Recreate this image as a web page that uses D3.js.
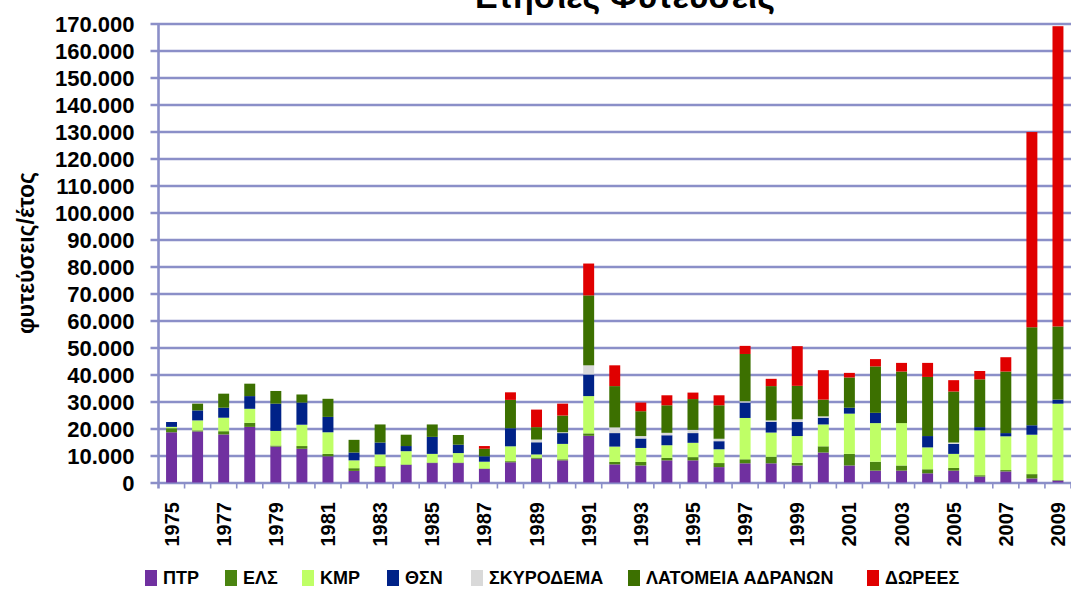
<!DOCTYPE html>
<html>
<head>
<meta charset="utf-8">
<script src="https://cdn.jsdelivr.net/npm/d3@7"></script>
<style>
  body { margin: 0; background: #fff; }
  svg { display: block; font-family: "Liberation Sans", Arial, sans-serif; }
  .tick-label { font-weight: bold; fill: #000; }
</style>
</head>
<body>
<div id="chart"></div>
<script>
// years and series (planted per year)
const years = d3.range(1975, 2010);
const seriesNames = ['ΠΤΡ', 'ΕΛΣ', 'ΚΜΡ', 'ΘΣΝ', 'ΣΚΥΡΟΔΕΜΑ', 'ΛΑΤΟΜΕΙΑ ΑΔΡΑΝΩΝ', 'ΔΩΡΕΕΣ'];
const seriesColors = ['#7030a0', '#4a8410', '#bfff66', '#002288', '#d9d9d9', '#3c7000', '#e00000'];

const ptr = [18600, 18900, 17800, 20600, 13300, 12500, 9700, 4300, 5800, 6500, 7200, 7200, 5000, 7500, 8800, 8200,
  17300, 6700, 6300, 8200, 8200, 5700, 7100, 7100, 6300, 11100, 6300, 4400, 4400, 3400, 4400, 2200, 4100, 1500, 700];
const els = [1500, 400, 1200, 1500, 400, 1000, 900, 1000, 300, 200, 200, 200, 200, 400, 400, 400,
  900, 900, 1300, 900, 1200, 1500, 1500, 2400, 1000, 2300, 4300, 3300, 1900, 1500, 1000, 500, 500, 1600, 200];
const kmr = [500, 3700, 5000, 5200, 5400, 7900, 8000, 2900, 4300, 4900, 3200, 3500, 2500, 5500, 1200, 5700,
  13800, 5700, 5200, 4700, 5300, 5100, 15300, 9000, 9900, 8100, 14900, 14300, 15700, 8100, 5200, 16600, 12500, 14600, 28300];
const thsn = [1800, 3700, 3700, 4700, 10100, 8200, 5700, 2900, 4400, 1900, 6300, 3100, 2000, 6700, 4500, 4000,
  8000, 5000, 3500, 3700, 3600, 3000, 5700, 4000, 5200, 2500, 2200, 3800, 0, 4200, 3700, 1200, 1200, 3500, 1500];
const skyrodema = [0, 0, 0, 0, 0, 0, 0, 0, 0, 0, 0, 0, 0, 0, 1000, 300,
  3400, 2100, 900, 900, 1200, 900, 500, 500, 1000, 500, 0, 0, 0, 0, 500, 0, 0, 0, 0];
const latomeia = [0, 2500, 5200, 4600, 4700, 3000, 6700, 4700, 6700, 4200, 4600, 3600, 2800, 10500, 4600, 6200,
  25900, 15300, 9200, 10200, 11400, 12400, 17500, 12700, 12400, 6200, 11200, 17200, 19100, 21900, 18900, 17700, 22800, 36300, 27100];
const dorees = [0, 0, 0, 0, 0, 0, 0, 0, 0, 0, 0, 0, 1000, 2800, 6500, 4400,
  11800, 7700, 3200, 3700, 2400, 3700, 3000, 2700, 14700, 10900, 1700, 2700, 3200, 5200, 4200, 3100, 5300, 72300, 111200];

const yTicks = d3.range(0, 170001, 10000);

const W = 1071, H = 596;
const margin = { top: 23.5, right: 0, bottom: 596 - 482.5, left: 158.5 };
const gridColor = '#8b8fc8';

const table = years.map((y, i) => ({
  year: y,
  'ΠΤΡ': ptr[i], 'ΕΛΣ': els[i], 'ΚΜΡ': kmr[i], 'ΘΣΝ': thsn[i],
  'ΣΚΥΡΟΔΕΜΑ': skyrodema[i], 'ΛΑΤΟΜΕΙΑ ΑΔΡΑΝΩΝ': latomeia[i], 'ΔΩΡΕΕΣ': dorees[i],
}));

const svg = d3.select('#chart').append('svg')
  .attr('width', W)
  .attr('height', H);

const xScale = d3.scaleBand()
  .domain(years)
  .range([margin.left, W - margin.right])
  .paddingInner(0.58)
  .paddingOuter(0.29);
const yScale = d3.scaleLinear()
  .domain([0, 170000])
  .range([H - margin.bottom, margin.top]);

const color = d3.scaleOrdinal().domain(seriesNames).range(seriesColors);

const fmt = d3.formatLocale({ decimal: ',', thousands: '.', grouping: [3], currency: ['', ''] }).format(',d');

/* gridlines + y axis */
const yAxis = d3.axisLeft(yScale)
  .tickValues(yTicks)
  .tickSize(-(W - margin.left + 8))
  .tickFormat(fmt);
const yAxisGroup = svg.append('g')
  .attr('transform', `translate(${margin.left - 8},0)`)
  .call(yAxis);
yAxisGroup.select('.domain').remove();
yAxisGroup.selectAll('.tick line')
  .attr('stroke', gridColor)
  .attr('stroke-width', 2.6);
yAxisGroup.selectAll('.tick text')
  .attr('class', 'tick-label')
  .attr('x', -16)
  .attr('dy', '0.36em')
  .style('font-size', '22px')
  .style('font-family', '"Liberation Sans", Arial, sans-serif');

/* vertical axis line */
svg.append('line')
  .attr('x1', margin.left).attr('x2', margin.left)
  .attr('y1', yScale(170000)).attr('y2', yScale(0) + 6)
  .attr('stroke', gridColor)
  .attr('stroke-width', 2.6);

/* category tick marks at bottom */
const step = xScale.step();
const bounds = d3.range(1, years.length + 1).map((i) => margin.left + i * step);
svg.append('g').selectAll('line')
  .data(bounds)
  .join('line')
  .attr('x1', (d) => d).attr('x2', (d) => d)
  .attr('y1', yScale(0)).attr('y2', yScale(0) + 6)
  .attr('stroke', gridColor)
  .attr('stroke-width', 1.6);

/* stacked bars */
const stacked = d3.stack().keys(seriesNames)(table);
svg.append('g').selectAll('g')
  .data(stacked)
  .join('g')
  .attr('fill', (d) => color(d.key))
  .selectAll('rect')
  .data((d) => d)
  .join('rect')
  .attr('x', (d) => xScale(d.data.year))
  .attr('width', xScale.bandwidth())
  .attr('y', (d) => yScale(d[1]))
  .attr('height', (d) => yScale(d[0]) - yScale(d[1]));

/* x labels (odd years) */
svg.append('g').selectAll('text')
  .data(years.filter((y) => y % 2 === 1))
  .join('text')
  .attr('class', 'tick-label')
  .attr('transform', (d) => `translate(${xScale(d) + xScale.bandwidth() / 2 + 7},502)rotate(-90)`)
  .attr('text-anchor', 'end')
  .style('font-size', '20px')
  .text((d) => d);

/* title, partly cut by the top edge as in the source image */
svg.append('text')
  .attr('x', 625)
  .attr('y', 8)
  .attr('text-anchor', 'middle')
  .style('font-size', '34px')
  .style('font-weight', 'bold')
  .text('Ετήσιες Φυτεύσεις');

/* y axis title */
svg.append('text')
  .attr('transform', 'translate(34,253)rotate(-90)')
  .attr('text-anchor', 'middle')
  .style('font-size', '23px')
  .style('font-weight', 'bold')
  .text('φυτεύσεις/έτος');

/* legend */
const legendX = [145, 225, 302, 387, 471, 628, 867];
const legend = svg.append('g').selectAll('g')
  .data(seriesNames)
  .join('g')
  .attr('transform', (d, i) => `translate(${legendX[i]},578)`);
legend.append('rect')
  .attr('x', 0).attr('y', -8)
  .attr('width', 12).attr('height', 16)
  .attr('fill', (d) => color(d));
legend.append('text')
  .attr('x', 18)
  .attr('dy', '0.36em')
  .style('font-size', '18px')
  .style('font-weight', 'bold')
  .text((d) => d);
</script>
</body>
</html>
